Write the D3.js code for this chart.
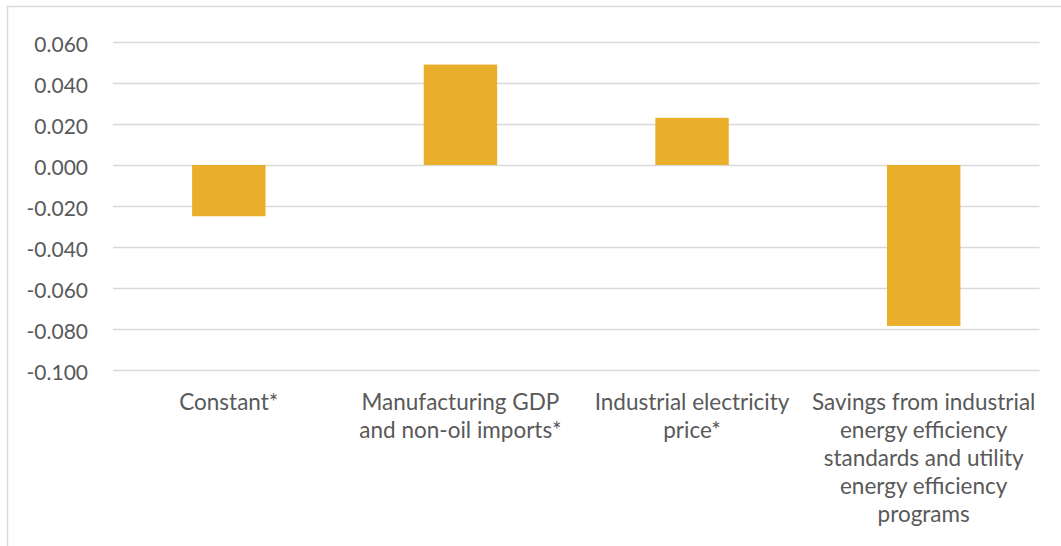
<!DOCTYPE html>
<html>
<head>
<meta charset="utf-8">
<script src="https://cdn.jsdelivr.net/npm/d3@7"></script>
<style>
  html, body { margin: 0; padding: 0; background: #fff; }
  svg { display: block; }
</style>
</head>
<body>
<svg id="chart" width="1061" height="546"></svg>
<script>
const categories = [
  "Constant*",
  "Manufacturing GDP\nand non-oil imports*",
  "Industrial electricity\nprice*",
  "Savings from industrial\nenergy efficiency\nstandards and utility\nenergy efficiency\nprograms"
];
const values = [-0.025, 0.049, 0.023, -0.0785];
const yTicks = [0.06, 0.04, 0.02, 0.0, -0.02, -0.04, -0.06, -0.08, -0.1];

(function () {
const svg = d3.select("#chart");
const mLeft = 113, mRight = 1039.5, mTop = 42, mBottom = 370;
const font = "Lato, 'Open Sans', sans-serif";
const textColor = "#595959";

// outer border
svg.append("rect")
  .attr("x", 7.5).attr("y", 6.5)
  .attr("width", 1200).attr("height", 700)
  .attr("fill", "none").attr("stroke", "#D9D9D9").attr("stroke-width", 1.5);

const x = d3.scaleBand().domain(categories).range([mLeft, mRight])
  .paddingInner(0.683).paddingOuter(0.3415);
const y = d3.scaleLinear().domain([-0.1, 0.06]).range([mBottom, mTop]);

// gridlines
svg.append("g").selectAll("line").data(yTicks).join("line")
  .attr("x1", mLeft).attr("x2", mRight)
  .attr("y1", d => Math.round(y(d)) + 0.5).attr("y2", d => Math.round(y(d)) + 0.5)
  .attr("stroke", "#D9D9D9").attr("stroke-width", 1.3);

// y axis labels via d3 axis
const fmt = d3.formatLocale({decimal: ".", thousands: ",", grouping: [3], currency: ["", ""], minus: "-"}).format(".3f");
const yAxis = d3.axisLeft(y).tickValues(yTicks).tickFormat(fmt).tickSize(0).tickPadding(0);
const gy = svg.append("g").attr("transform", "translate(88,0)").call(yAxis);
gy.select(".domain").remove();
gy.selectAll("text")
  .attr("fill", textColor)
  .style("font-family", font).style("font-size", "21px")
  .attr("dy", "0.45em");

// bars
svg.append("g").selectAll("rect").data(values).join("rect")
  .attr("x", (d, i) => x(categories[i]))
  .attr("width", x.bandwidth())
  .attr("y", d => y(Math.max(0, d)))
  .attr("height", d => Math.abs(y(d) - y(0)))
  .attr("fill", "#E9AF2A");

// category labels
const gx = svg.append("g");
categories.forEach((c, i) => {
  const cx = x(c) + x.bandwidth() / 2;
  const t = gx.append("text")
    .attr("x", cx)
    .attr("y", 410)
    .attr("text-anchor", "middle")
    .attr("fill", textColor)
    .style("font-family", font).style("font-size", "22.5px");
  c.split("\n").forEach((line, j) => {
    t.append("tspan").attr("x", cx).attr("dy", j === 0 ? 0 : 28).text(line);
  });
});
})();
</script>
</body>
</html>
